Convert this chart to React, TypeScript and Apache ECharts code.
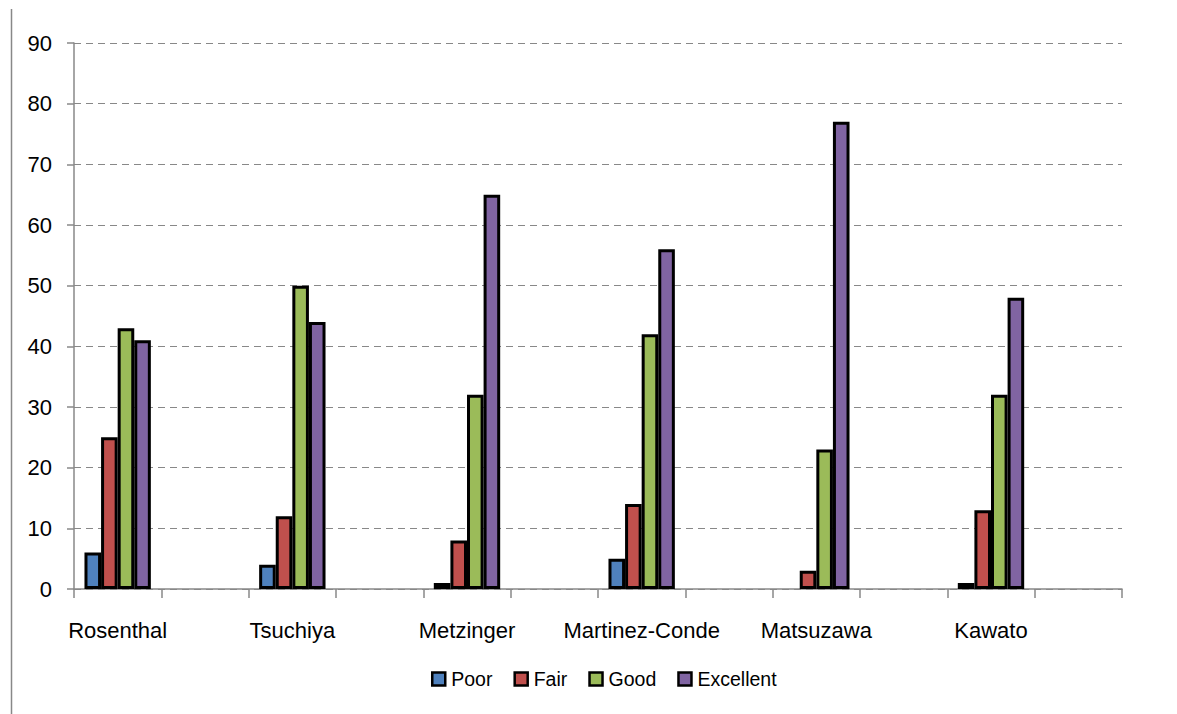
import React, { useEffect, useRef } from "react";
import * as echarts from "echarts";

// Researchers shown on the x axis (each followed by an empty spacer slot)
const researchers = ["Rosenthal", "Tsuchiya", "Metzinger", "Martinez-Conde", "Matsuzawa", "Kawato"];

// Number of ratings per grade for each researcher
const poor = [6, 4, 1, 5, 0, 1];
const fair = [25, 12, 8, 14, 3, 13];
const good = [43, 50, 32, 42, 23, 32];
const excellent = [41, 44, 65, 56, 77, 48];

const seriesNames = ["Poor", "Fair", "Good", "Excellent"];
const seriesColors = ["#4F81BD", "#C0504D", "#9BBB59", "#8064A2"];

const yTicks = { min: 0, max: 90, interval: 10 };

// Interleave every researcher with an empty slot; zero bars get no outline
const categories: string[] = researchers.flatMap((r) => [r, ""]);
const pad = (vals: number[]) =>
  vals.flatMap((v) => [v === 0 ? { value: 0, itemStyle: { borderWidth: 0 } } : v, null]);

export default function App() {
  const ref = useRef<HTMLDivElement>(null);

  useEffect(() => {
    if (!ref.current) return;
    const chart = echarts.init(ref.current, undefined, { renderer: "svg" });
    const allValues = [poor, fair, good, excellent];
    chart.setOption({
      animation: false,
      backgroundColor: "#ffffff",
      textStyle: { fontFamily: "Liberation Sans" },
      grid: { left: 74, right: 55, top: 43, bottom: 125, containLabel: false },
      legend: {
        data: seriesNames,
        top: 664,
        left: 426,
        itemWidth: 13,
        itemHeight: 13,
        itemGap: 21,
        icon: "rect",
        itemStyle: { borderColor: "#000", borderWidth: 2.5 },
        textStyle: { fontSize: 19.5, color: "#000", padding: [0, 0, 0, 1] },
      },
      xAxis: {
        type: "category",
        data: categories,
        boundaryGap: true,
        axisLine: { lineStyle: { color: "#888", width: 1.5 } },
        axisTick: { show: true, length: 9, interval: 0, lineStyle: { color: "#888", width: 1.5 } },
        axisLabel: { interval: 0, fontSize: 22, color: "#000", margin: 30 },
        splitLine: { show: false },
      },
      yAxis: {
        type: "value",
        min: yTicks.min,
        max: yTicks.max,
        interval: yTicks.interval,
        axisLine: { show: true, lineStyle: { color: "#888", width: 1.5 } },
        axisTick: { show: true, length: 7, lineStyle: { color: "#888", width: 1.5 } },
        axisLabel: { fontSize: 22, color: "#000", margin: 22 },
        splitLine: { show: true, lineStyle: { color: "#888", type: [7, 5], width: 1.2 } },
      },
      graphic: [
        {
          type: "line",
          shape: { x1: 11.5, y1: 9, x2: 11.5, y2: 714 },
          style: { stroke: "#888", lineWidth: 1.5 },
        },
      ],
      series: seriesNames.map((name, i) => ({
        name,
        type: "bar",
        data: pad(allValues[i]),
        barGap: "0%",
        barCategoryGap: "24%",
        itemStyle: { color: seriesColors[i], borderColor: "#000", borderWidth: 3 },
      })),
    });
    return () => chart.dispose();
  }, []);

  return (
    <div
      ref={ref}
      style={{ position: "absolute", left: 0, top: 0, width: 1177, height: 714 }}
    />
  );
}
